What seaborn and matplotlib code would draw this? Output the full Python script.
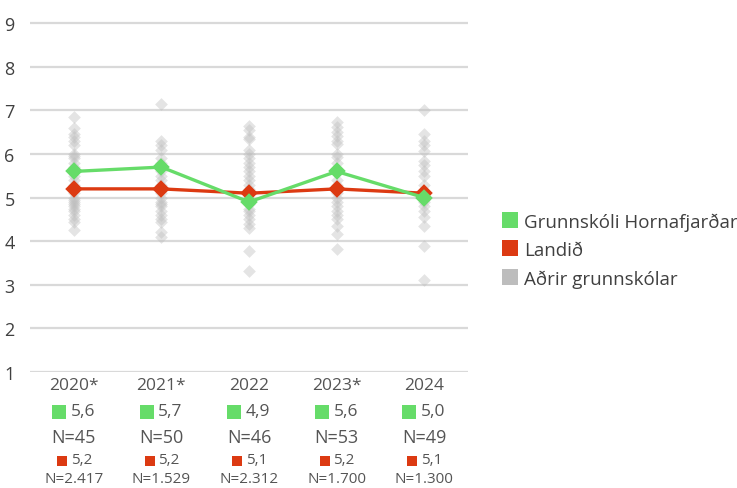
import numpy as np
import pandas as pd
import seaborn as sns
import matplotlib.pyplot as plt
from matplotlib.lines import Line2D
from matplotlib import transforms

years = ["2020*", "2021*", "2022", "2023*", "2024"]
school_values = [5.6, 5.7, 4.9, 5.6, 5.0]
school_n = [45, 50, 46, 53, 49]
national_values = [5.2, 5.2, 5.1, 5.2, 5.1]
national_n = ["2.417", "1.529", "2.312", "1.700", "1.300"]

others_2020 = [6.85, 6.6, 6.45, 6.38, 6.3, 6.2, 6.0, 5.95, 5.9, 5.8, 5.7, 5.5, 5.4,
               5.3, 5.2, 5.1, 5.0, 4.95, 4.9, 4.85, 4.8, 4.75, 4.7, 4.6, 4.5, 4.45, 4.25]
others_2021 = [7.15, 6.3, 6.2, 6.1, 5.9, 5.8, 5.6, 5.5, 5.4, 5.3, 5.1, 5.0, 4.9,
               4.85, 4.8, 4.7, 4.6, 4.5, 4.45, 4.2, 4.1]
others_2022 = [6.65, 6.55, 6.4, 6.35, 6.1, 6.0, 5.9, 5.8, 5.7, 5.6, 5.5, 5.4, 5.3,
               5.2, 5.1, 4.95, 4.85, 4.75, 4.7, 4.6, 4.5, 4.4, 4.3, 3.78, 3.32]
others_2023 = [6.73, 6.62, 6.5, 6.42, 6.3, 6.23, 6.0, 5.93, 5.8, 5.6, 5.4, 5.3, 5.1,
               5.0, 4.9, 4.8, 4.7, 4.6, 4.5, 4.36, 4.17, 3.82]
others_2024 = [7.0, 6.45, 6.3, 6.2, 6.08, 5.85, 5.75, 5.6, 5.5, 5.3, 5.05, 4.95,
               4.9, 4.8, 4.7, 4.55, 4.35, 3.9, 3.12]
others = [others_2020, others_2021, others_2022, others_2023, others_2024]

legend_labels = ["Grunnskóli Hornafjarðar", "Landið", "Aðrir grunnskólar"]

GREEN = "#66dc69"
RED = "#dc3a12"
GREY = "#bdbdbd"
TEXT = "#555555"

sns.set_theme(style="white")
plt.rcParams["font.family"] = ["Open Sans", "DejaVu Sans"]

others_df = pd.DataFrame(
    [(y, v) for y, vals in zip(years, others) for v in vals],
    columns=["year", "value"],
)
main_df = pd.DataFrame({"year": years, "school": school_values, "national": national_values})

fig = plt.figure(figsize=(7.37, 4.89), dpi=100)
ax = fig.add_axes([30 / 737, 1 - 373 / 489, 438 / 737, 353 / 489])

sns.stripplot(data=others_df, x="year", y="value", order=years, jitter=False,
              marker="D", size=6.5, color=GREY, alpha=0.4, linewidth=0, ax=ax, zorder=2)
sns.pointplot(data=main_df, x="year", y="national", order=years, color=RED,
              markers="D", markersize=7, linewidth=2.4, ax=ax, zorder=4)
sns.pointplot(data=main_df, x="year", y="school", order=years, color=GREEN,
              markers="D", markersize=7, linewidth=2.4, ax=ax, zorder=5)

ax.set_xlim(-0.5, 4.5)
ax.set_ylim(1, 1 + 353 / 43.6)
ax.set_yticks(range(1, 10))
ax.yaxis.grid(True, color="#d9d9d9", linewidth=1.6)
ax.set_axisbelow(True)
for s in ax.spines.values():
    s.set_visible(False)
ax.tick_params(axis="y", length=0, pad=11, labelsize=13, labelcolor="#404040")
ax.set_yticklabels([str(i) for i in range(1, 10)])
ax.set_xticks([])
ax.set_xlabel("")
ax.set_ylabel("")

# Category captions below the axis: year, school value and N, national value and N
trans = transforms.blended_transform_factory(ax.transData, fig.transFigure)
def fy(py):
    return 1 - py / 489

for i, yr in enumerate(years):
    ax.text(i, fy(386), yr, transform=trans, ha="center", va="center",
            fontsize=12.5, color=TEXT)
    ax.plot([i - 0.17], [fy(413)], marker="s", markersize=10, markeredgewidth=0,
            color=GREEN, transform=trans, clip_on=False)
    ax.text(i - 0.035, fy(412), f"{school_values[i]:.1f}".replace(".", ","),
            transform=trans, ha="left", va="center", fontsize=12.5, color=TEXT)
    ax.text(i, fy(438), f"N={school_n[i]}", transform=trans, ha="center",
            va="center", fontsize=13, color=TEXT)
    ax.plot([i - 0.135], [fy(462)], marker="s", markersize=7.8, markeredgewidth=0,
            color=RED, transform=trans, clip_on=False)
    ax.text(i - 0.035, fy(461), f"{national_values[i]:.1f}".replace(".", ","),
            transform=trans, ha="left", va="center", fontsize=11, color=TEXT)
    ax.text(i, fy(480), f"N={national_n[i]}", transform=trans, ha="center",
            va="center", fontsize=11, color=TEXT)

handles = [Line2D([], [], marker="s", linestyle="none", markersize=11.5,
                  markeredgewidth=0, color=c)
           for c in (GREEN, RED, GREY)]
fig.legend(handles, legend_labels, loc="center left", bbox_to_anchor=(485 / 737, 1 - 251 / 489),
           frameon=False, fontsize=13.5, labelcolor="#404040", handletextpad=0.3,
           labelspacing=0.55, handlelength=0.9)

fig.savefig("out.png", dpi=100)
